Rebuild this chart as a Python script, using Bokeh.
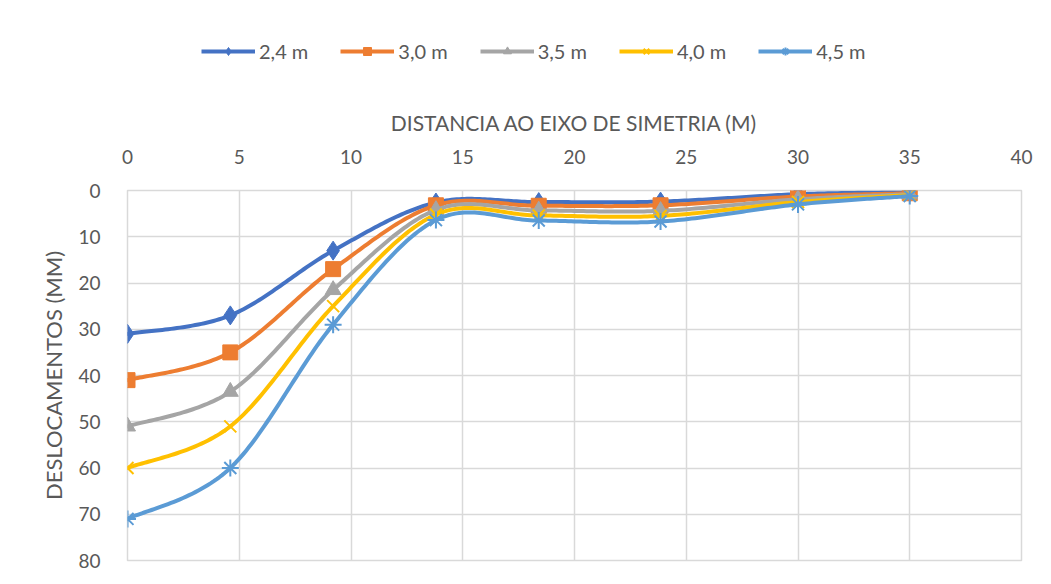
import numpy as np
from bokeh.plotting import figure
from bokeh.layouts import column
from bokeh.models import Range1d, FixedTicker, Legend, LegendItem
from bokeh.embed import file_html
from bokeh.resources import INLINE

# ---- data ----
distance = [0, 4.6, 9.2, 13.8, 18.4, 23.85, 30, 35]
series_names = ["2,4 m", "3,0 m", "3,5 m", "4,0 m", "4,5 m"]
d_24 = [31, 27, 13, 2.6, 2.5, 2.4, 0.8, 0.4]
d_30 = [41, 35, 17, 3.2, 3.3, 3.2, 1.3, 0.6]
d_35 = [51, 43.5, 21.5, 4.2, 4.3, 4.4, 1.9, 0.8]
d_40 = [60, 51, 25, 5.2, 5.4, 5.5, 2.5, 1.0]
d_45 = [71, 60, 29, 6.4, 6.5, 6.7, 3.0, 1.2]
x_ticks = [0, 5, 10, 15, 20, 25, 30, 35, 40]
y_ticks = [0, 10, 20, 30, 40, 50, 60, 70, 80]

colors = ["#4472C4", "#ED7D31", "#A5A5A5", "#FFC000", "#5B9BD5"]
markers = ["diamond", "square", "triangle", "x", "asterisk"]
msizes = [19, 15, 16, 17, 17]
all_series = [d_24, d_30, d_35, d_40, d_45]

FONT = "Lato"
TXT = "#595959"
GRID = "#D9D9D9"
LEG_H = 90


def smooth(xs, ys, n=40):
    xs = np.asarray(xs, float)
    ys = np.asarray(ys, float)
    px = np.concatenate([[xs[0]], xs, [xs[-1]]])
    py = np.concatenate([[ys[0]], ys, [ys[-1]]])
    out_x, out_y = [], []
    t = np.linspace(0, 1, n)
    for i in range(1, len(px) - 2):
        p0x, p1x, p2x, p3x = px[i - 1], px[i], px[i + 1], px[i + 2]
        p0y, p1y, p2y, p3y = py[i - 1], py[i], py[i + 1], py[i + 2]
        c1x = p1x + (p2x - p0x) / 6.0
        c1y = p1y + (p2y - p0y) / 6.0
        c2x = p2x - (p3x - p1x) / 6.0
        c2y = p2y - (p3y - p1y) / 6.0
        bx = ((1 - t) ** 3) * p1x + 3 * ((1 - t) ** 2) * t * c1x + 3 * (1 - t) * t ** 2 * c2x + t ** 3 * p2x
        by = ((1 - t) ** 3) * p1y + 3 * ((1 - t) ** 2) * t * c1y + 3 * (1 - t) * t ** 2 * c2y + t ** 3 * p2y
        if i > 1:
            bx, by = bx[1:], by[1:]
        out_x.extend(bx.tolist())
        out_y.extend(by.tolist())
    return out_x, out_y


# ---- main chart ----
p = figure(
    width=1043, height=576 - LEG_H,
    x_range=Range1d(0, 40), y_range=Range1d(80, 0),
    x_axis_location="above",
    output_backend="svg", toolbar_location=None,
    min_border_left=127, min_border_top=190 - LEG_H,
    min_border_right=22, min_border_bottom=16,
)
p.outline_line_color = GRID
p.outline_line_width = 1.5
p.background_fill_color = "white"
p.border_fill_color = "white"

for ax, ticks in ((p.xaxis[0], x_ticks), (p.yaxis[0], y_ticks)):
    ax.ticker = FixedTicker(ticks=ticks)
    ax.axis_line_color = None
    ax.major_tick_line_color = None
    ax.minor_tick_line_color = None
    ax.major_label_text_font = FONT
    ax.major_label_text_font_size = "19px"
    ax.major_label_text_color = TXT
    ax.axis_label_text_font = FONT
    ax.axis_label_text_font_style = "normal"
    ax.axis_label_text_color = TXT

p.xaxis.axis_label = "DISTANCIA AO EIXO DE SIMETRIA (M)"
p.yaxis.axis_label = "DESLOCAMENTOS (MM)"
p.xaxis.axis_label_text_font_size = "21px"
p.yaxis.axis_label_text_font_size = "22px"
p.xaxis.major_label_standoff = 21
p.xaxis.axis_label_standoff = 12
p.yaxis.major_label_standoff = 21
p.yaxis.axis_label_standoff = 8

p.xgrid.ticker = FixedTicker(ticks=x_ticks)
p.ygrid.ticker = FixedTicker(ticks=y_ticks)
for g in (p.xgrid, p.ygrid):
    g.grid_line_color = GRID
    g.grid_line_width = 1.5

# ---- legend strip (separate figure above the chart) ----
# its x range lies outside the data, so the proxy renderers draw nothing in the strip
lf = figure(
    width=1043, height=LEG_H,
    x_range=Range1d(-2, -1), y_range=Range1d(-2, -1),
    x_axis_location=None, y_axis_location=None,
    output_backend="svg", toolbar_location=None,
    min_border=0,
)
lf.outline_line_color = None
lf.xgrid.visible = False
lf.ygrid.visible = False
lf.background_fill_color = "white"
lf.border_fill_color = "white"

items = []
for name, ys, c, m, s in zip(series_names, all_series, colors, markers, msizes):
    sx, sy = smooth(distance, ys)
    p.line(sx, sy, line_color=c, line_width=4, line_cap="round", line_join="round")
    lw = 2 if m in ("x", "asterisk") else 1
    p.scatter(distance, ys, marker=m, size=s, line_color=c, line_width=lw, fill_color=c)
    # legend proxies with identical styling
    l1 = lf.line(distance, ys, line_color=c, line_width=4)
    l2 = lf.scatter(distance, ys, marker=m, size=s - 3, line_color=c, line_width=lw, fill_color=c)
    items.append(LegendItem(label=name, renderers=[l1, l2]))

legend = Legend(
    items=items, orientation="horizontal",
    location=(74, 27),
    label_text_font=FONT, label_text_font_size="20px", label_text_color=TXT,
    glyph_width=54, glyph_height=20, label_standoff=4, spacing=32,
    padding=5, margin=0,
    border_line_color=None, background_fill_alpha=0,
)
lf.add_layout(legend)

layout = column(lf, p, spacing=0)
open("out.html", "w").write(file_html(layout, INLINE))
